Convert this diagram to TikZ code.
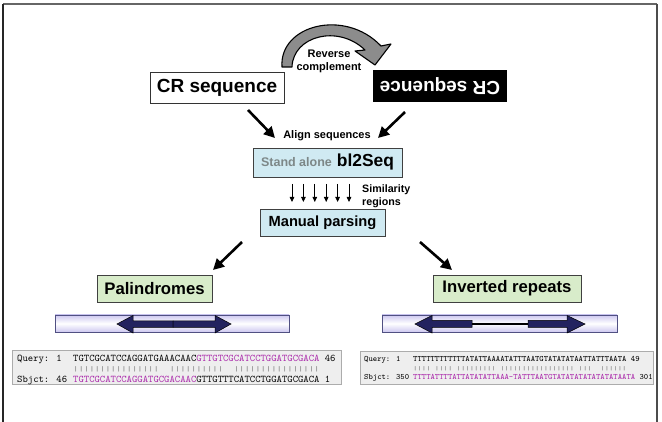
\documentclass[tikz,border=0pt]{standalone}
\usepackage{fontspec}
\setmainfont{Liberation Sans}
\usepackage{graphicx}
\usetikzlibrary{arrows.meta}
\definecolor{navy}{RGB}{35,35,95}
\definecolor{boxblue}{RGB}{208,234,242}
\definecolor{boxgreen}{RGB}{216,236,202}
\definecolor{barpurple}{RGB}{205,200,240}
\definecolor{barline}{RGB}{80,80,130}
\definecolor{seqmag}{RGB}{170,40,170}
\definecolor{standgray}{RGB}{125,135,135}
\definecolor{curvegray}{RGB}{140,140,140}
\begin{document}
\begin{tikzpicture}[x=1pt,y=-1pt,
  bigarrow/.style={line width=2.6pt,-{Triangle[length=11pt,width=11pt]}},
  smallarrow/.style={line width=0.8pt,-{Triangle[length=5pt,width=4.5pt]}},
  bluebox/.style={draw=black!75,line width=0.7pt,fill=boxblue,inner sep=0pt},
  greenbox/.style={draw=black!75,line width=0.7pt,fill=boxgreen,inner sep=0pt},
  seqbar/.style={draw=barline,line width=0.7pt,top color=barpurple,bottom color=barpurple,middle color=white},
  alnbox/.style={draw=gray!65,line width=0.8pt,fill=gray!13},
  navyarrow/.style={fill=navy,draw=black,line width=0.5pt},
  bl/.style={font=\bfseries\fontsize{11}{13}\selectfont,inner sep=0pt},
  monoA/.style={font=\ttfamily\fontsize{10.2}{12}\selectfont,inner sep=0pt,anchor=base west},
  monoB/.style={font=\ttfamily\fontsize{8.2}{10}\selectfont,inner sep=0pt,anchor=base west}
]
\useasboundingbox (0,0) rectangle (662,422);
\fill[white] (0,0) rectangle (662,422);
% frame
\draw[line width=1.3pt,gray!80!black] (3,4) -- (657,4);
\draw[line width=1.1pt,black!85] (3,4) -- (3,422);
\draw[line width=1.1pt,black!70] (657,4) -- (657,422);

% top boxes
\node[draw=black!80,line width=0.8pt,fill=white,minimum width=134pt,minimum height=31pt,inner sep=0pt,
  font=\bfseries\fontsize{19}{22}\selectfont] (cr) at (217,87.5) {CR sequence};
\node[fill=black,text=white,minimum width=134pt,minimum height=32pt,inner sep=0pt,rotate=180,
  font=\bfseries\fontsize{19}{22}\selectfont] (rc) at (440,86) {CR sequence};

% curved arrow
\draw[fill=curvegray,draw=black,line width=1.1pt,line join=round]
  (282,67) .. controls (279,25) and (345,8) .. (381,46)
  -- (391,44) -- (375,65) -- (355,51) -- (365,50)
  .. controls (338,24) and (293,36) .. (292,67) -- cycle;
\node[bl,align=center] (revtxt) at (329,61) {Reverse\\complement};

% align
\node[bl] (aligntxt) at (327,136) {Align sequences};
\coordinate (a1s) at (248,110); \coordinate (a1e) at (275,138);
\coordinate (a2s) at (405,112); \coordinate (a2e) at (378,138);
\draw[bigarrow] (a1s) -- (a1e);
\draw[bigarrow] (a2s) -- (a2e);

\node[bluebox,minimum width=149pt,minimum height=29pt] (bl2) at (327.5,162.5)
  {\bfseries{\color{standgray}\fontsize{12.5}{14}\selectfont Stand alone}\hspace{5pt}{\fontsize{17.4}{20}\selectfont bl2Seq}};

\foreach \i in {0,...,5} {
  \coordinate (s\i) at (292+\i*11.4,184);
  \coordinate (e\i) at (292+\i*11.4,202);
  \draw[smallarrow] (s\i) -- (e\i);
}
\node[bl,font=\bfseries\fontsize{10.7}{13}\selectfont,align=left,anchor=west] (simtxt) at (362,196.5) {Similarity\\regions};

\node[bluebox,minimum width=125pt,minimum height=27pt,font=\bfseries\fontsize{14.7}{17}\selectfont] (manual) at (322.5,222.5) {Manual parsing};

\coordinate (b1s) at (242,242); \coordinate (b1e) at (213,270);
\coordinate (b2s) at (420,242); \coordinate (b2e) at (452,270);
\draw[bigarrow] (b1s) -- (b1e);
\draw[bigarrow] (b2s) -- (b2e);

\node[greenbox,minimum width=115pt,minimum height=27pt,font=\bfseries\fontsize{16.7}{19}\selectfont] (pal) at (154.5,288.5) {Palindromes};
\node[greenbox,minimum width=148pt,minimum height=27pt,font=\bfseries\fontsize{16.7}{19}\selectfont] (inv) at (507,288.5) {Inverted repeats};

% sequence bars
\shade[seqbar] (55,315) rectangle (289,332);
\draw[barline,line width=0.7pt] (55,315) rectangle (289,332);
\draw[navyarrow] (117,324) -- (133,315.5) -- (133,321) -- (173,321) -- (173,327.5) -- (133,327.5) -- (133,333) -- cycle;
\draw[navyarrow] (173,321) -- (215,321) -- (215,315.5) -- (231,324) -- (215,333) -- (215,327.5) -- (173,327.5) -- cycle;

\shade[seqbar] (382,315) rectangle (617,332);
\draw[barline,line width=0.7pt] (382,315) rectangle (617,332);
\draw[navyarrow] (415,324) -- (432,315.5) -- (432,320.5) -- (472,320.5) -- (472,327.5) -- (432,327.5) -- (432,333) -- cycle;
\draw[black,line width=1.6pt] (472,324) -- (528,324);
\draw[navyarrow] (528,320.5) -- (567,320.5) -- (567,315.5) -- (585,324) -- (567,333) -- (567,327.5) -- (528,327.5) -- cycle;

% alignment boxes
\draw[alnbox] (12,350) rectangle (341,384);
\node[monoA] (q1l) at (17,362) {Query: 1};
\node[monoA] (q1s) at (73,362) {TGTCGCATCCAGGATGAAACAAC\textcolor{seqmag}{GTTGTCGCATCCTGGATGCGACA} 46};
\node[monoA,text=gray] (m1) at (73,371.5) {\scalebox{1}[0.7]{||||||||||||||||~~||||||||||~~||||||||||||||||}};
\node[monoA] (s1l) at (17,382) {Sbjct: 46};
\node[monoA] (s1s) at (73,382) {\textcolor{seqmag}{TGTCGCATCCAGGATGCGACAAC}GTTGTTTCATCCTGGATGCGACA 1};

\draw[alnbox] (360,351) rectangle (653,384);
\node[monoB] (q2l) at (364,362) {Query: 1};
\node[monoB] (q2s) at (413,362) {TTTTTTTTTTTTATATTAAAATATTTAATGTATATATAATTATTTAATA 49};
\node[monoB,text=gray] (m2) at (413,370.5) {\scalebox{1}[0.7]{||||~||||~|||||||||~|||||||||||||||||~|||~~||||||}};
\node[monoB] (s2l) at (364,380) {Sbjct: 350};
\node[monoB] (s2s) at (413,380) {\textcolor{seqmag}{TTTTATTTTATTATATATTAAA-TATTTAATGTATATATATATATATAATA} 301};
\end{tikzpicture}
\end{document}
